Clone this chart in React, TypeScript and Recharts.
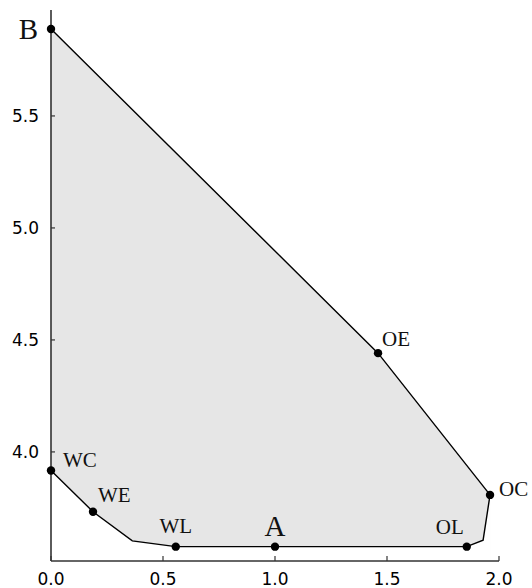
import {
  ComposedChart,
  Area,
  Line,
  Scatter,
  XAxis,
  YAxis,
} from 'recharts';

// upper boundary of the region: B -> OE -> OC
const UPPER_X = [0, 1.46, 1.96];
const UPPER_Y = [5.888, 4.441, 3.808];

// lower boundary: WC -> WE -> kink -> WL -> A -> OL -> kink -> OC
const LOWER_X = [0, 0.1875, 0.363, 0.557, 1.0, 1.856, 1.929, 1.96];
const LOWER_Y = [3.917, 3.733, 3.603, 3.577, 3.577, 3.577, 3.606, 3.808];

// labelled points
const POINT_NAMES = ['B', 'OE', 'OC', 'OL', 'A', 'WL', 'WE', 'WC'];
const POINT_X = [0, 1.46, 1.96, 1.856, 1.0, 0.557, 0.1875, 0];
const POINT_Y = [5.888, 4.441, 3.808, 3.577, 3.577, 3.577, 3.733, 3.917];

const X_TICKS = [0, 0.5, 1.0, 1.5, 2.0];
const Y_TICKS = [4.0, 4.5, 5.0, 5.5];

const upperData = UPPER_X.map((x, i) => ({ x, y: UPPER_Y[i] }));
const lowerData = LOWER_X.map((x, i) => ({ x, y: LOWER_Y[i] }));
const outlineData = [...lowerData, ...upperData.slice(0, -1).reverse()];
const pointData = POINT_NAMES.map((name, i) => ({ name, x: POINT_X[i], y: POINT_Y[i] }));

const SERIF = '"Liberation Serif", "DejaVu Serif", serif';

const LABEL_STYLE: Record<string, { dx: number; dy: number; anchor: 'start' | 'middle' | 'end'; size: number }> = {
  B: { dx: -13, dy: 10, anchor: 'end', size: 29 },
  OE: { dx: 4, dy: -7, anchor: 'start', size: 21 },
  OC: { dx: 9, dy: 1, anchor: 'start', size: 21 },
  OL: { dx: -3, dy: -13, anchor: 'end', size: 21 },
  A: { dx: 0, dy: -11, anchor: 'middle', size: 29 },
  WL: { dx: 0, dy: -14, anchor: 'middle', size: 21 },
  WE: { dx: 5, dy: -10, anchor: 'start', size: 21 },
  WC: { dx: 12, dy: -4, anchor: 'start', size: 21 },
};

function PointMark(props: any) {
  const { cx, cy, payload } = props;
  const s = LABEL_STYLE[payload.name];
  return (
    <g>
      <circle cx={cx} cy={cy} r={4.2} fill="#000" />
      <text
        x={cx + s.dx}
        y={cy + s.dy}
        textAnchor={s.anchor}
        fontSize={s.size}
        fontFamily={SERIF}
        fill="#111"
      >
        {payload.name}
      </text>
    </g>
  );
}

const tickStyle = { fontSize: 17, fill: '#000', fontFamily: '"DejaVu Sans", sans-serif' };

export default function App() {
  return (
    <div style={{ position: 'absolute', left: 0, top: 0, background: '#fff' }}>
      <ComposedChart
        width={532}
        height={588}
        margin={{ top: 10, right: 33, left: 0, bottom: 0 }}
      >
        <XAxis
          dataKey="x"
          type="number"
          domain={[0, 2]}
          ticks={X_TICKS}
          tickFormatter={(v: number) => v.toFixed(1)}
          tick={tickStyle}
          tickSize={-5}
          tickMargin={17}
          height={27}
          axisLine={{ stroke: '#333', strokeWidth: 1.6 }}
          tickLine={{ stroke: '#333', strokeWidth: 1.2 }}
        />
        <YAxis
          dataKey="y"
          type="number"
          domain={[3.513, 5.973]}
          ticks={Y_TICKS}
          tickFormatter={(v: number) => v.toFixed(1)}
          tick={tickStyle}
          tickSize={-4}
          tickMargin={16}
          width={51}
          axisLine={{ stroke: '#333', strokeWidth: 1.6 }}
          tickLine={{ stroke: '#333', strokeWidth: 1.2 }}
        />
        <Area
          data={upperData}
          dataKey="y"
          type="linear"
          stroke="none"
          fill="#e6e6e6"
          fillOpacity={1}
          isAnimationActive={false}
        />
        <Area
          data={lowerData}
          dataKey="y"
          type="linear"
          stroke="none"
          fill="#fff"
          fillOpacity={1}
          isAnimationActive={false}
        />
        <Line
          data={outlineData}
          dataKey="y"
          type="linear"
          stroke="#000"
          strokeWidth={1.4}
          dot={false}
          activeDot={false}
          isAnimationActive={false}
        />
        <Scatter
          data={pointData}
          dataKey="y"
          shape={PointMark}
          isAnimationActive={false}
        />
      </ComposedChart>
    </div>
  );
}
